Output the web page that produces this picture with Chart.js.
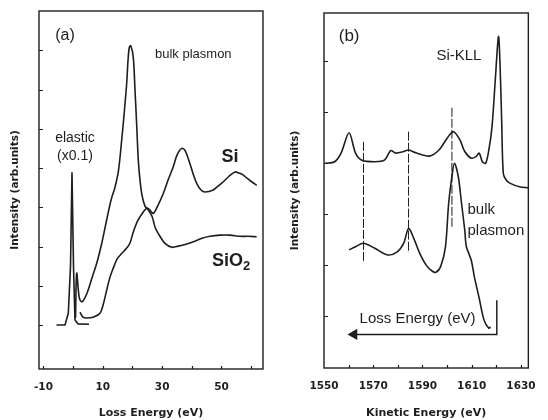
<!DOCTYPE html>
<html>
<head>
<meta charset="utf-8">
<script src="https://cdn.jsdelivr.net/npm/chart.js@4.4.1/dist/chart.umd.min.js"></script>
<style>
  html, body { margin: 0; padding: 0; background: #fff; }
  #wrap { position: relative; width: 548px; height: 420px; }
  canvas { position: absolute; top: 0; }
</style>
</head>
<body>
<div id="wrap">
  <canvas id="chartA" width="274" height="420" style="left:0"></canvas>
  <canvas id="chartB" width="274" height="420" style="left:274px"></canvas>
</div>
<script>
// ---- panel (a): loss energy spectra ----
const elasticE = [-5.6, -2.74, -1.62, -0.88, -0.38, 0.13, 0.63, 1.64, 5.35];
const elasticI = [0, 0, 0.3, 1.5, 3.89, 1.5, 0.13, 0.03, 0.02];

const sio2E = [0.8, 1.21, 2.08, 2.99, 4.68, 6.36, 8.05, 9.73, 11.42, 12.77, 14.11, 15.3, 16.37, 17.15, 18.06, 18.5,
  18.93, 19.41, 20.28, 20.86, 21.43, 21.97, 22.54, 23.21, 24.23, 25.34, 26.59, 27.6, 28.71, 30.97, 33.33,
  35.45, 38.05, 40.51, 43.44, 46.13, 49.5, 52.87, 56.24, 58.94, 61.87];
const sio2I = [0.18, 1.32, 0.69, 0.59, 0.81, 1.20, 1.60, 2.11, 2.72, 3.18, 3.51, 3.94, 4.71, 5.34, 6.16, 6.74,
  7.07, 7.12, 6.82, 5.98, 5.09, 4.20, 3.69, 3.31, 3.03, 2.93, 2.77, 2.50, 2.33, 2.08, 1.98,
  2.01, 2.06, 2.12, 2.21, 2.26, 2.29, 2.29, 2.26, 2.26, 2.25];

const siE = [2.32, 3.33, 4.58, 6.7, 9.06, 10.17, 11.32, 12.43, 13.54, 14.79, 16.37, 18.06, 19.17, 20.28, 21.87,
  23.65, 24.9, 25.91, 27.02, 28.6, 30.39, 31.98, 33.76, 35.0, 36.6, 37.7, 39.39, 40.57, 41.65, 43.1,
  44.45, 47.25, 48.83, 50.62, 52.54, 54.56, 55.91, 57.36, 58.6, 60.19, 61.87];
const siI = [0.33, 0.20, 0.18, 0.20, 0.30, 0.53, 0.89, 1.22, 1.45, 1.68, 1.82, 1.96, 2.09, 2.37, 2.67,
  2.88, 2.98, 2.93, 2.84, 3.05, 3.35, 3.69, 4.03, 4.33, 4.50, 4.45, 4.11, 3.82, 3.61, 3.44,
  3.39, 3.44, 3.54, 3.65, 3.79, 3.90, 3.87, 3.82, 3.74, 3.65, 3.56];

const xLabelsA = [-10, 10, 30, 50];
const xMinorA = [-10, 0, 10, 20, 30, 40, 50, 60];
const yTicksA = [0, 1, 2, 3, 4, 5, 6, 7];

// ---- panel (b): kinetic energy spectra ----
const kllE = [1550.39, 1554.31, 1556.93, 1560.18, 1562.80, 1565.39, 1570.63, 1574.55, 1577.13, 1579.09,
  1582.38, 1584.34, 1587.59, 1592.80, 1596.71, 1600.00, 1602.58, 1605.21, 1607.17, 1609.79,
  1611.75, 1613.04, 1614.33, 1615.66, 1616.95, 1618.25, 1619.58, 1620.87, 1621.53, 1622.16,
  1622.83, 1624.0, 1625.45, 1629.37, 1633];
const kllI = [3.00, 3.03, 3.20, 3.60, 3.20, 3.06, 3.03, 3.06, 3.25, 3.20,
  3.23, 3.26, 3.20, 3.14, 3.26, 3.49, 3.62, 3.46, 3.23, 3.10,
  3.13, 3.20, 3.03, 3.00, 3.26, 3.72, 4.64, 5.49, 4.90, 3.85,
  2.80, 2.67, 2.61, 2.54, 2.52];

const bulkE = [1560.18, 1562.80, 1566.05, 1570.63, 1575.84, 1579.76, 1582.38, 1584.34, 1586.5, 1589.0,
  1591.5, 1594.0, 1595.5, 1597.38, 1599.33, 1600.63, 1601.96, 1602.98, 1604.54, 1605.87, 1607.17,
  1607.83, 1609.79, 1611.08, 1613.04, 1615.0, 1616.95, 1617.62];
const bulkI = [1.30, 1.36, 1.43, 1.33, 1.20, 1.26, 1.43, 1.72, 1.52, 1.22,
  1.00, 0.88, 0.86, 0.97, 1.36, 2.21, 2.74, 3.00, 2.74, 2.21, 1.69,
  1.36, 1.10, 0.77, 0.35, -0.08, -0.24, -0.21];

const markE = [1566.05, 1584.34, 1601.96];
const markTop = [3.42, 3.62, 4.09];
const markBottom = [1.04, 1.24, 1.73];

const arrowE = [1620.2, 1620.2, 1562.2];
const arrowI = [0.31, -0.36, -0.36];

const xLabelsB = [1550, 1570, 1590, 1610, 1630];
const xMinorB = [1560, 1570, 1580, 1590, 1600, 1610, 1620, 1630];
const yTicksB = [0, 1, 2, 3, 4, 5];

const ink = '#1e1e1e';
const pts = (xs, ys) => xs.map((x, i) => ({ x: x, y: ys[i] }));

function curve(xs, ys, extra) {
  return Object.assign({
    data: pts(xs, ys),
    borderColor: ink,
    borderWidth: 1.6,
    pointRadius: 0,
    tension: 0.3,
    fill: false
  }, extra || {});
}

// box, inward tick marks and annotation text
const frame = {
  id: 'frame',
  afterDatasetsDraw(chart, args, opts) {
    const { ctx, chartArea: a, scales: { x, y } } = chart;
    ctx.save();
    ctx.strokeStyle = ink;
    ctx.lineWidth = 1.4;
    ctx.strokeRect(a.left, a.top, a.width, a.height);
    ctx.lineWidth = 1.2;
    ctx.beginPath();
    opts.yTicks.forEach(v => {
      const py = Math.round(y.getPixelForValue(v)) + 0.5;
      ctx.moveTo(a.left, py);
      ctx.lineTo(a.left + 4, py);
    });
    opts.xTicks.forEach(v => {
      const px = Math.round(x.getPixelForValue(v)) + 0.5;
      ctx.moveTo(px, a.bottom);
      ctx.lineTo(px, a.bottom - 3);
    });
    ctx.stroke();

    ctx.fillStyle = ink;
    ctx.textBaseline = 'middle';
    opts.notes.forEach(n => {
      const px = x.getPixelForValue(n.x);
      const py = y.getPixelForValue(n.y);
      ctx.font = n.font;
      ctx.textAlign = n.align;
      ctx.fillText(n.text, px, py);
      if (n.sub) {
        const w = ctx.measureText(n.text).width;
        ctx.font = n.subFont;
        ctx.textAlign = 'left';
        ctx.fillText(n.sub, px + w, py + 5);
      }
    });
    ctx.restore();
  }
};

const sans = '"Liberation Sans", Arial, sans-serif';
const axisFont = { family: '"DejaVu Sans", sans-serif', weight: 'bold', size: 10.5 };

function makeOptions(cfg) {
  return {
    responsive: false,
    animation: false,
    layout: { padding: { left: 0, right: cfg.padRight, top: cfg.padTop, bottom: 0 } },
    plugins: {
      legend: { display: false },
      tooltip: { enabled: false },
      frame: { yTicks: cfg.yTicks, xTicks: cfg.xMinor, notes: cfg.notes }
    },
    scales: {
      x: {
        type: 'linear',
        min: cfg.xMin,
        max: cfg.xMax,
        grid: { display: false, drawTicks: false },
        border: { display: false },
        afterBuildTicks: s => { s.ticks = cfg.xLabels.map(v => ({ value: v })); },
        afterFit: s => { s.height = cfg.xHeight; },
        ticks: {
          autoSkip: false,
          maxRotation: 0,
          padding: 12,
          color: ink,
          font: axisFont,
          callback: v => String(v)
        },
        title: {
          display: true,
          text: cfg.xTitle,
          color: ink,
          font: { family: '"DejaVu Sans", sans-serif', weight: 'bold', size: 11 },
          padding: { top: 0, bottom: 0 }
        }
      },
      y: {
        type: 'linear',
        min: cfg.yMin,
        max: cfg.yMax,
        grid: { display: false, drawTicks: false },
        border: { display: false },
        ticks: { display: false },
        afterFit: s => { s.width = cfg.yWidth; },
        title: {
          display: true,
          text: 'Intensity (arb.units)',
          color: ink,
          font: axisFont,
          padding: { top: cfg.yTitlePad, bottom: 0 }
        }
      }
    }
  };
}

new Chart(document.getElementById('chartA'), {
  type: 'line',
  data: {
    datasets: [
      curve(elasticE, elasticI, { tension: 0 }),
      curve(sio2E, sio2I),
      curve(siE, siI)
    ]
  },
  options: makeOptions({
    padRight: 11, padTop: 11, xHeight: 51, yWidth: 39, yTitlePad: 8.7,
    xMin: -11.5, xMax: 64, yMin: -1.12, yMax: 8,
    xLabels: xLabelsA, xMinor: xMinorA, yTicks: yTicksA,
    xTitle: 'Loss Energy (eV)',
    notes: [
      { text: '(a)', x: -2.74, y: 7.38, font: '16px ' + sans, align: 'center' },
      { text: 'bulk plasmon', x: 27.6, y: 6.9, font: '13px ' + sans, align: 'left' },
      { text: 'elastic', x: 0.63, y: 4.77, font: '14px ' + sans, align: 'center' },
      { text: '(x0.1)', x: 0.63, y: 4.29, font: '14px ' + sans, align: 'center' },
      { text: 'Si', x: 52.9, y: 4.29, font: 'bold 18px ' + sans, align: 'center' },
      { text: 'SiO', sub: '2', x: 46.8, y: 1.63, font: 'bold 18px ' + sans, subFont: 'bold 13px ' + sans, align: 'left' }
    ]
  }),
  plugins: [frame]
});

const markSets = markE.map((e, i) => ({
  data: [{ x: e, y: markTop[i] }, { x: e, y: markBottom[i] }],
  borderColor: ink,
  borderWidth: 1,
  borderDash: [9, 2],
  pointRadius: 0
}));

new Chart(document.getElementById('chartB'), {
  type: 'line',
  data: {
    datasets: [
      curve(kllE, kllI),
      curve(bulkE, bulkI),
      ...markSets,
      {
        data: pts(arrowE, arrowI),
        borderColor: ink,
        backgroundColor: ink,
        borderWidth: 1.5,
        tension: 0,
        pointRadius: [0, 0, 5],
        pointStyle: 'triangle',
        pointRotation: -90
      }
    ]
  },
  options: makeOptions({
    padRight: 12, padTop: 13, xHeight: 52, yWidth: 50, yTitlePad: 14.7,
    xMin: 1550, xMax: 1633, yMin: -1.02, yMax: 5.95,
    xLabels: xLabelsB, xMinor: xMinorB, yTicks: yTicksB,
    xTitle: 'Kinetic Energy (eV)',
    notes: [
      { text: '(b)', x: 1560.2, y: 5.49, font: '17px ' + sans, align: 'center' },
      { text: 'Si-KLL', x: 1604.8, y: 5.11, font: '15px ' + sans, align: 'center' },
      { text: 'bulk', x: 1608.3, y: 2.08, font: '15px ' + sans, align: 'left' },
      { text: 'plasmon', x: 1608.3, y: 1.68, font: '15px ' + sans, align: 'left' },
      { text: 'Loss Energy (eV)', x: 1588, y: -0.05, font: '15px ' + sans, align: 'center' }
    ]
  }),
  plugins: [frame]
});
</script>
</body>
</html>
